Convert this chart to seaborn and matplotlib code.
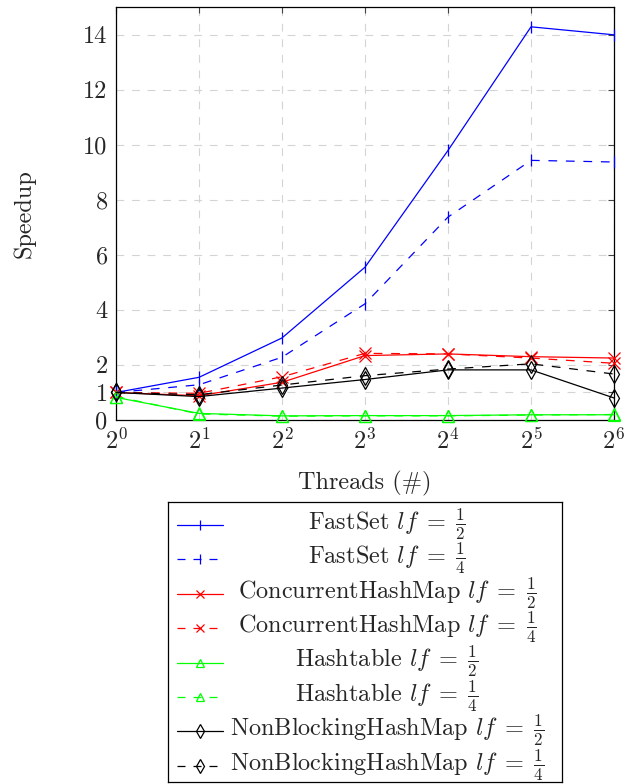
import pandas as pd
import matplotlib
matplotlib.use("Agg")
import matplotlib.pyplot as plt
from matplotlib.lines import Line2D
import seaborn as sns

threads = [1, 2, 4, 8, 16, 32, 64]

fastset_half = [1.0, 1.55, 2.98, 5.55, 9.79, 14.28, 13.99]
fastset_quarter = [1.0, 1.28, 2.28, 4.22, 7.37, 9.43, 9.37]
chm_half = [1.0, 0.88, 1.37, 2.34, 2.40, 2.30, 2.25]
chm_quarter = [1.0, 0.97, 1.57, 2.42, 2.40, 2.25, 2.06]
hashtable_half = [0.82, 0.24, 0.15, 0.16, 0.16, 0.19, 0.19]
hashtable_quarter = [0.85, 0.22, 0.14, 0.15, 0.15, 0.18, 0.20]
nbhm_half = [1.0, 0.85, 1.16, 1.47, 1.82, 1.82, 0.80]
nbhm_quarter = [1.0, 0.92, 1.27, 1.61, 1.85, 2.04, 1.67]

series_names = [
    r"FastSet $lf\;=\;\frac{1}{2}$",
    r"FastSet $lf\;=\;\frac{1}{4}$",
    r"ConcurrentHashMap $lf\;=\;\frac{1}{2}$",
    r"ConcurrentHashMap $lf\;=\;\frac{1}{4}$",
    r"Hashtable $lf\;=\;\frac{1}{2}$",
    r"Hashtable $lf\;=\;\frac{1}{4}$",
    r"NonBlockingHashMap $lf\;=\;\frac{1}{2}$",
    r"NonBlockingHashMap $lf\;=\;\frac{1}{4}$",
]
series_values = [fastset_half, fastset_quarter, chm_half, chm_quarter,
                 hashtable_half, hashtable_quarter, nbhm_half, nbhm_quarter]

y_ticks = [0, 1, 2, 4, 6, 8, 10, 12, 14]
x_tick_labels = [r"$2^{%d}$" % i for i in range(7)]

# style per series
dashed = (0, (7, 7))
colors = ["blue", "blue", "red", "red", "lime", "lime", "black", "black"]
markers = ["|", "|", "x", "x", "^", "^", "d", "d"]
msizes = [9, 9, 8, 8, 8, 8, 9, 9]
styles = ["-", dashed, "-", dashed, "-", dashed, "-", dashed]

rows = []
for name, vals in zip(series_names, series_values):
    for t, v in zip(threads, vals):
        rows.append({"series": name, "threads": t, "speedup": v})
df = pd.DataFrame(rows)

sns.set_theme(style="white")
plt.rcParams["font.family"] = "serif"
plt.rcParams["font.serif"] = ["cmr10", "DejaVu Serif"]
plt.rcParams["mathtext.fontset"] = "cm"
plt.rcParams["axes.formatter.use_mathtext"] = True

fig = plt.figure(figsize=(6.44, 7.84), dpi=100)
ax = fig.add_axes([116 / 644, 1 - 420 / 784, 498 / 644, 413 / 784])

for name, c, m, ms, ls in zip(series_names, colors, markers, msizes, styles):
    sub = df[df["series"] == name]
    sns.lineplot(data=sub, x="threads", y="speedup", ax=ax, color=c,
                 linewidth=0.9, linestyle=ls, marker=m, markersize=ms,
                 markerfacecolor="none", markeredgecolor=c, markeredgewidth=0.9,
                 clip_on=False, zorder=3, legend=False)

ax.set_xscale("log", base=2)
ax.set_xlim(1, 64)
ax.set_ylim(0, 15)
ax.set_xticks(threads)
ax.set_xticklabels(x_tick_labels)
ax.set_yticks(y_ticks)
ax.set_yticklabels([str(v) for v in y_ticks])
ax.minorticks_off()
ax.grid(True, linestyle=(0, (7, 7)), color="#d4d4d4", linewidth=0.8)
ax.tick_params(direction="in", length=4, width=0.8, color="#444444",
               top=True, right=True, labelsize=17.5, pad=6)
for s in ax.spines.values():
    s.set_color("black")
    s.set_linewidth(0.9)
ax.set_xlabel("Threads (#)", fontsize=17.5, labelpad=12)
ax.set_ylabel("Speedup", fontsize=17.5, labelpad=34)

# legend box below the plot
lax = fig.add_axes([168 / 644, 2 / 784, 394 / 644, 280 / 784])
lax.set_xlim(168, 562)
lax.set_ylim(782, 502)
lax.set_xticks([])
lax.set_yticks([])
for s in lax.spines.values():
    s.set_color("black")
    s.set_linewidth(0.9)
lax.set_facecolor("white")
for i, (name, c, m, ms, ls) in enumerate(zip(series_names, colors, markers, msizes, styles)):
    y = 525 + i * 34.4
    if ls == "-":
        lax.add_line(Line2D([177, 223], [y, y], color=c, linewidth=0.9))
    else:
        lax.add_line(Line2D([177, 217], [y, y], color=c, linewidth=0.9,
                            linestyle=(0, (6.4, 6.4))))
    lax.add_line(Line2D([200], [y], color=c, marker=m, markersize=ms - 2,
                        markerfacecolor="none", markeredgecolor=c, markeredgewidth=0.9))
    lax.text(387, y - 1, name, ha="center", va="center", fontsize=17.5)

fig.savefig("out.png", dpi=100)
